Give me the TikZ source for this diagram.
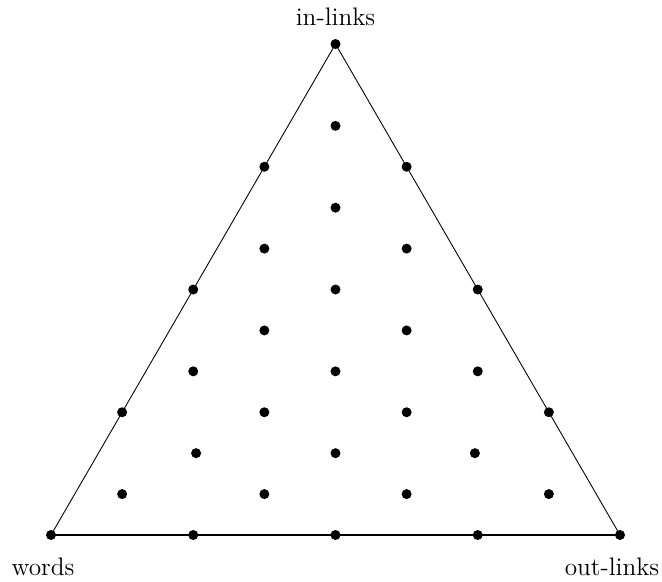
\documentclass[tikz,border=0pt]{standalone}
\usepackage{tikz}
\usetikzlibrary{positioning}

\begin{document}
\begin{tikzpicture}[
    x=1.4225cm, y=0.8183cm,
    pt/.style={circle, fill=black, inner sep=0pt, minimum size=0.2cm},
    lbl/.style={font=\Large, inner sep=0pt},
    side/.style={line width=0.5pt},
    basel/.style={line width=1.1pt}
]
\useasboundingbox (-1.02cm,-0.92cm) rectangle (12.22cm,10.7cm);

% ---- corners of the simplex ----
\coordinate (W) at (0,0);
\coordinate (O) at (8,0);
\coordinate (I) at (4,12);

\draw[side] (W) -- (I) -- (O);
\draw[basel] (W) -- (O);

% ---- grid points (column/level) ----
\foreach \c/\l in {4/12, 4/10, 3/9, 5/9, 4/8, 3/7, 5/7, 2/6, 4/6, 6/6,
                   3/5, 5/5, 2/4, 4/4, 6/4, 1/3, 3/3, 5/3, 7/3,
                   2.04/2, 4/2, 5.96/2, 1/1, 3/1, 5/1, 7/1,
                   0/0, 2/0, 4/0, 6/0, 8/0}{%
  \node[pt] at (\c,\l) {};
}

\node[lbl, anchor=base] (inl) at ([yshift=0.38cm]I) {in-links};
\node[lbl, anchor=base] (wrd) at ([xshift=-0.16cm, yshift=-0.8cm]W) {words};
\node[lbl, anchor=base] (outl) at ([xshift=-0.16cm, yshift=-0.8cm]O) {out-links};
\end{tikzpicture}
\end{document}
